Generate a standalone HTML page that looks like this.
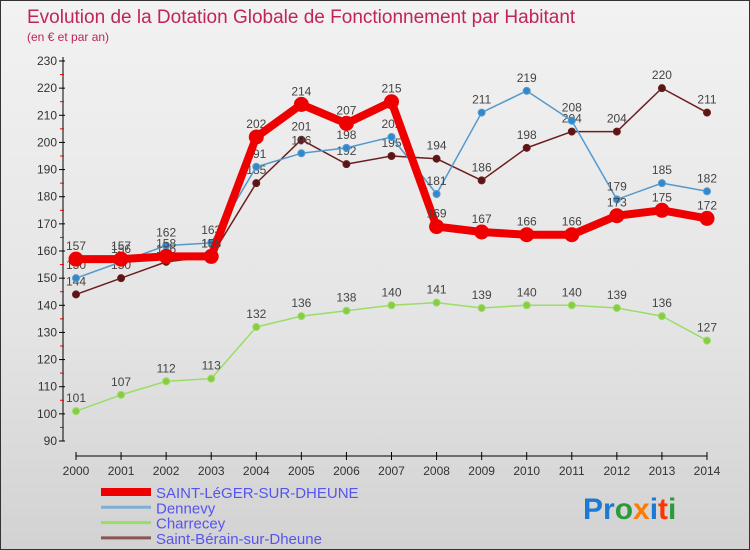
<!DOCTYPE html>
<html><head><meta charset="utf-8"><style>
body{margin:0}
#c{width:750px;height:550px;position:relative;background:linear-gradient(#f2f2f2,#e4e4e4 60%,#d2d2d2);border:1px solid #333;box-sizing:border-box;font-family:"Liberation Sans",sans-serif;overflow:hidden}
svg text{font-family:"Liberation Sans",sans-serif}
</style></head><body>
<div id="c">
<svg id="s" width="750" height="550">
<text x="26" y="22" font-size="19" fill="#c0245a">Evolution de la Dotation Globale de Fonctionnement par Habitant</text>
<text x="26" y="40" font-size="12" fill="#c0245a">(en € et par an)</text>
<g id="axes"></g><g id="series"></g><g id="legend"></g>
<text x="582" y="518" font-size="30" font-weight="bold"><tspan fill="#1a7ad4">Pr</tspan><tspan fill="#2a9a3a">o</tspan><tspan fill="#ff7a00">x</tspan><tspan fill="#1a7ad4">i</tspan><tspan fill="#ff3300">t</tspan><tspan fill="#2a9a3a">i</tspan></text>
</svg></div>
<script>
const years=["2000","2001","2002","2003","2004","2005","2006","2007","2008","2009","2010","2011","2012","2013","2014"];
const yTicks=[90,100,110,120,130,140,150,160,170,180,190,200,210,220,230];
const leger=[157,157,158,158,202,214,207,215,169,167,166,166,173,175,172];
const dennevy=[150,156,162,163,191,196,198,202,181,211,219,208,179,185,182];
const charrecey=[101,107,112,113,132,136,138,140,141,139,140,140,139,136,127];
const berain=[144,150,156,158,185,201,192,195,194,186,198,204,204,220,211];
const names=["SAINT-LéGER-SUR-DHEUNE","Dennevy","Charrecey","Saint-Bérain-sur-Dheune"];
const NS="http://www.w3.org/2000/svg";
const X=i=>75+i*(631/14), Y=v=>60+(230-v)*380/140;
function mk(t,a,p,n){const e=document.createElementNS(NS,t);for(const k in a)e.setAttribute(k,a[k]);p.appendChild(e);return e;}
const ax=document.getElementById('axes');
mk('line',{x1:62,y1:56,x2:62,y2:440,stroke:'#000'},ax,'y-axis');
mk('line',{x1:75,y1:455,x2:706,y2:455,stroke:'#000'},ax,'x-axis');
yTicks.forEach(v=>{mk('line',{x1:58,y1:Y(v),x2:64,y2:Y(v),stroke:'#000'},ax,'y-tick');
 if(v<230)mk('line',{x1:59,y1:Y(v+5),x2:63,y2:Y(v+5),stroke:'#e00'},ax,'y-minor-tick');
 const t=mk('text',{x:56,y:Y(v)+4,'text-anchor':'end','font-size':12,fill:'#333'},ax,'y-tick-label');t.textContent=v;});
years.forEach((y,i)=>{mk('line',{x1:X(i),y1:451,x2:X(i),y2:459,stroke:'#000'},ax,'x-tick');
 const t=mk('text',{x:X(i),y:474,'text-anchor':'middle','font-size':12,fill:'#333'},ax,'x-tick-label');t.textContent=y;});
const sg=document.getElementById('series');
function series(d,col,w,r,fill,nm){
 mk('polyline',{points:d.map((v,i)=>X(i)+','+Y(v)).join(' '),fill:'none',stroke:col,'stroke-width':w,'stroke-linejoin':'round'},sg,nm+'-line');
 d.forEach((v,i)=>{mk('circle',{cx:X(i),cy:Y(v),r:r,fill:fill,stroke:col},sg,nm+'-point');
  const t=mk('text',{x:X(i),y:Y(v)-9,'text-anchor':'middle','font-size':12,fill:'#444'},sg,nm+'-value');t.textContent=v;});}
series(charrecey,'#99dd66',1.5,3.5,'#88cc44','charrecey');
series(berain,'#6b1e1e',1.5,3.5,'#5a1515','saint-berain');
series(dennevy,'#5599cc',1.5,3.5,'#3388cc','dennevy');
series(leger,'#ee0000',8,7,'#ee0000','saint-leger');
const lg=document.getElementById('legend');
const lc=['#ee0000','#7fb0d4','#99dd66','#8b5555'],lw=[8,3,3,3];
names.forEach((n,i)=>{const y=496+i*15.3;
 mk('line',{x1:100,y1:y-5,x2:150,y2:y-5,stroke:lc[i],'stroke-width':lw[i]},lg,'legend-swatch');
 const t=mk('text',{x:155,y:y+1,'font-size':15,fill:'#5555ee'},lg,'legend-entry');t.textContent=n;});
</script></body></html>
